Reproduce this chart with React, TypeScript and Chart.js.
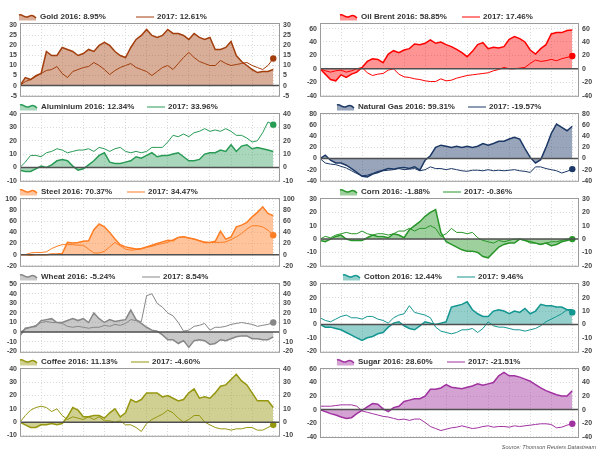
import React, { useEffect, useRef } from "react";
import { Chart, registerables } from "chart.js";
Chart.register(...registerables);

const FONT = "'Liberation Sans', Arial, Helvetica, sans-serif";

// ---- data (weekly-ish readings, % change YTD) ----
const gold2016 = [0,4,3,5,6,17,15,15,19,18,17,15,16,18,17,20,21.5,20,17,15,14,19,23,25,28,25,24,25,28,26,26,25,23,26,24,23,24,18,18,19,22,15,12,10,8,6.5,7,7,8];
const gold2017 = [0,2,3,4.5,6,7.5,8,9.5,6,4,7,8,9,9.5,11.5,10,8,5.5,7.5,9,10,11,9,8,7,5,7,9,10,8,11,14,16.5,14,12,11,10,10,12.5,11,10,10.5,11,11.5,10,9,8,10,13.5];
const oil2016 = [0,-8,-16,-18,-9,-13,-8,-5,2,11,15,14,9,22,27,24,28,30,37,36,38,43,38,40,36,33,29,24,18,26,36,39,30,32,31,33,44,48,45,40,28,22,30,36,52,54,54,57,58];
const oil2017 = [0,-3,-5,-3,-2,-5,-3,0,2,-6,-10,-8,-7,-2,0,-8,-12,-13,-15,-16,-18,-19,-19,-15,-18,-17,-14,-12,-10,-9,-8,-7,-6,-3,-1,2,0,0,1,2,8,13,11,12,14,12,15,17,19];
const alum2016 = [-2,-3,-3,-1,1,0,2,5,6,5,1,-2,-1,2,5,9,11,4,3,3,4,5,8,7,9,11,8,9,9,10,11,8,5,5,6,10,11,11,13,12,17,12,16,17,14,15,14,13,12];
const alum2017 = [0,4,9,9,8,11,12,14,13,11,12,13,13,14,12,15,14,12,14,15,12,11,12,11,12,15,15,15,19,24,23,25,23,26,27,29,27,28,27,29,27,24,24,22,19,20,26,34,32];
const gas2016 = [0,6,-3,-8,-8,-12,-18,-25,-32,-33,-28,-25,-21,-18,-19,-17,-16,-18,-15,-21,-3,5,20,24,22,20,22,20,22,20,22,27,24,27,31,31,35,38,35,18,2,-8,-2,20,45,62,56,50,58];
const gas2017 = [0,-8,-10,-11,-14,-17,-22,-27,-31,-30,-27,-23,-22,-21,-20,-18,-20,-19,-18,-22,-20,-15,-18,-18,-20,-18,-20,-22,-23,-21,-21,-22,-20,-22,-21,-22,-21,-20,-22,-23,-25,-15,-15,-18,-20,-22,-26,-23,-19];
const steel2016 = [0,0,-1,0,0,0,1,1,2,22,21,22,24,25,45,55,50,40,28,18,14,12,10,11,14,17,20,23,26,25,31,32,30,28,25,22,22,24,42,28,32,50,53,58,68,76,86,74,70];
const steel2017 = [0,0,3,4,4,5,11,15,18,18,18,17,17,10,3,3,6,14,22,16,10,8,9,10,13,15,18,20,22,27,31,32,30,28,25,23,22,22,22,23,27,32,38,46,52,52,50,44,35];
const corn2016 = [-1,-2,0,2,3,0,-1,-1,-1,1,3,2,2,1,4,3,1,7,10,13,17,20,22,5,-2,-4,-6,-8,-9,-9,-10,-13,-14,-10,-6,-4,-3,-3,0,-1,-2,-3,-4,-3,-5,-4,-2,-1,0];
const corn2017 = [0,2,1,3,4,5,4,4,6,4,3,4,4,3,4,6,6,8,6,8,8,10,8,2,4,8,5,5,4,5,1,-1,-2,-3,-1,-2,-1,0,0,-1,-3,-3,-4,-3,-2,-2,-1,0,0];
const wheat2016 = [-4,4,5,6,12,13,14,10,10,12,14,12,14,10,20,14,10,13,11,12,13,23,13,9,5,2,1,-3,-8,-8,-12,-9,-16,-9,-8,-9,-13,-12,-8,-9,-7,-5,-4,-4,-7,-7,-8,-8,-5];
const wheat2017 = [0,3,5,7,10,11,10,10,9,6,5,6,5,4,5,5,7,6,8,7,9,13,12,11,38,40,30,26,20,17,10,1,2,6,7,9,2,5,5,6,8,9,10,9,8,6,7,8,10];
const cotton2016 = [0,-2,-2,-3,-4,-6,-8,-10,-12,-10,-9,-7,-6,-2,1,2,-1,-3,-4,-1,2,1,0,1,2,13,14,15,17,11,8,6,6,10,11,10,8,10,9,12,8,10,15,14,14,13,13,11,11];
const cotton2017 = [5,3,2,4,6,7,5,5,4,6,6,4,3,1,5,7,8,14,9,8,7,5,-2,-5,-6,-7,-6,-4,-4,-3,-6,-3,2,-1,-2,-2,-3,-4,-4,-5,-4,-3,-1,2,4,6,8,11,9];
const coffee2016 = [0,-2,-4,-4,-2,-2,-1,-2,-1,4,11,9,4,4,5,5,3,7,10,4,7,17,15,17,22,22,22,19,20,18,16,17,22,25,18,19,18,22,27,28,32,36,31,28,22,16,16,16,11];
const coffee2017 = [0,5,9,11,12,11,8,10,5,2,4,3,2,4,2,4,1,1,0,1,-2,-2,-4,-7,-1,2,4,6,9,7,3,0,2,5,5,0,-2,-4,-5,-5,-6,-5,-5,-4,-4,-6,-6,-4,-2];
const sugar2016 = [0,-3,-6,-8,-11,-13,-12,-6,-1,4,9,8,1,-3,3,5,12,14,16,16,20,30,30,32,37,33,32,31,33,35,38,36,38,40,50,55,50,50,48,45,42,37,32,28,25,22,20,20,28];
const sugar2017 = [5,5,5,6,7,7,7,5,-2,-4,-6,-8,-10,-11,-13,-15,-14,-16,-14,-14,-19,-25,-28,-31,-29,-27,-26,-24,-26,-28,-27,-25,-24,-26,-25,-25,-26,-24,-25,-24,-23,-22,-21,-21,-22,-27,-26,-23,-21];

const legend2016 = ["Gold 2016: 8.95%","Oil Brent 2016: 58.85%","Aluminium 2016: 12.34%","Natural Gas 2016: 59.31%","Steel 2016: 70.37%","Corn 2016: -1.88%","Wheat 2016: -5.24%","Cotton 2016: 12.44%","Coffee 2016: 11.13%","Sugar 2016: 28.60%"];
const legend2017 = ["2017: 12.61%","2017: 17.46%","2017: 33.96%","2017: -19.57%","2017: 34.47%","2017: -0.36%","2017: 8.54%","2017: 9.46%","2017: -4.60%","2017: -21.51%"];

const goldTicks = [-5,0,5,10,15,20,25,30];
const oilTicks = [-40,-20,0,20,40,60];
const alumTicks = [-10,0,10,20,30,40];
const gasTicks = [-40,-20,0,20,40,60,80];
const steelTicks = [-20,0,20,40,60,80,100];
const cornTicks = [-20,-10,0,10,20,30];
const wheatTicks = [-20,-10,0,10,20,30,40,50];
const cottonTicks = [-20,-10,0,10,20,30];
const coffeeTicks = [-10,0,10,20,30,40];
const sugarTicks = [-40,-20,0,20,40,60];
const monthTicks = [0,1,2,3,4,5,6,7,8,9,10,11,12];

const sourceText = "Source: Thomson Reuters Datastream";

// x position of each reading (in months, 4 readings per month)
const xPositions = gold2016.map((_, i) => i / 4);

type PanelCfg = {
  s16: number[]; s17: number[]; lab16: string; lab17: string;
  ticks: number[]; range: [number, number];
  line: string; fill: string; col: number; top: number; h: number; legX: [number, number];
};

const panels: PanelCfg[] = [
  { s16: gold2016, s17: gold2017, lab16: legend2016[0], lab17: legend2017[0], ticks: goldTicks, range: [-5.6, 31.2], line: "rgb(163,62,12)", fill: "rgba(163,62,12,0.42)", col: 0, top: 23, h: 75, legX: [19, 136] },
  { s16: oil2016, s17: oil2017, lab16: legend2016[1], lab17: legend2017[1], ticks: oilTicks, range: [-41.8, 68.3], line: "rgb(255,0,0)", fill: "rgba(255,0,0,0.42)", col: 1, top: 23, h: 75, legX: [40, 162] },
  { s16: alum2016, s17: alum2017, lab16: legend2016[2], lab17: legend2017[2], ticks: alumTicks, range: [-10.7, 40.7], line: "rgb(40,155,85)", fill: "rgba(40,155,85,0.4)", col: 0, top: 113, h: 70, legX: [20, 147] },
  { s16: gas2016, s17: gas2017, lab16: legend2016[3], lab17: legend2017[3], ticks: gasTicks, range: [-41.8, 81.8], line: "rgb(28,56,102)", fill: "rgba(28,56,102,0.45)", col: 1, top: 113, h: 70, legX: [37, 168] },
  { s16: steel2016, s17: steel2017, lab16: legend2016[4], lab17: legend2017[4], ticks: steelTicks, range: [-21.8, 101.8], line: "rgb(255,125,35)", fill: "rgba(255,125,35,0.45)", col: 0, top: 198, h: 70, legX: [20, 127] },
  { s16: corn2016, s17: corn2017, lab16: legend2016[5], lab17: legend2017[5], ticks: cornTicks, range: [-20.7, 30.7], line: "rgb(40,150,40)", fill: "rgba(40,150,40,0.45)", col: 1, top: 198, h: 70, legX: [40, 143] },
  { s16: wheat2016, s17: wheat2017, lab16: legend2016[6], lab17: legend2017[6], ticks: wheatTicks, range: [-21.7, 51.3], line: "rgb(135,135,135)", fill: "rgba(135,135,135,0.45)", col: 0, top: 283, h: 71, legX: [20, 142] },
  { s16: cotton2016, s17: cotton2017, lab16: legend2016[7], lab17: legend2017[7], ticks: cottonTicks, range: [-21.2, 31.0], line: "rgb(20,150,145)", fill: "rgba(20,150,145,0.45)", col: 1, top: 283, h: 71, legX: [43, 157] },
  { s16: coffee2016, s17: coffee2017, lab16: legend2016[8], lab17: legend2017[8], ticks: coffeeTicks, range: [-11, 40.7], line: "rgb(150,150,15)", fill: "rgba(150,150,15,0.45)", col: 0, top: 368, h: 70, legX: [20, 131] },
  { s16: sugar2016, s17: sugar2017, lab16: legend2016[9], lab17: legend2017[9], ticks: sugarTicks, range: [-42, 61.5], line: "rgb(160,50,160)", fill: "rgba(160,50,160,0.45)", col: 1, top: 368, h: 70, legX: [37, 147] },
];

function wave(ctx: CanvasRenderingContext2D, x: number, cy: number) {
  ctx.moveTo(x, cy - 1.5);
  ctx.bezierCurveTo(x + 3, cy - 3, x + 5, cy + 1.5, x + 8.5, cy + 0.5);
  ctx.bezierCurveTo(x + 11, cy - 0.5, x + 13, cy - 3, x + 17, cy + 1.5);
}

const decorPlugin = {
  id: "decor",
  afterDatasetsDraw(chart: any) {
    const { ctx, chartArea: a, scales } = chart;
    const y0 = scales.y.getPixelForValue(0);
    ctx.save();
    ctx.strokeStyle = "#505050";
    ctx.lineWidth = 1.5;
    ctx.beginPath();
    ctx.moveTo(a.left, y0);
    ctx.lineTo(a.right, y0);
    ctx.stroke();
    ctx.strokeStyle = "#9b9b9b";
    ctx.lineWidth = 1;
    ctx.strokeRect(a.left + 0.5, a.top + 0.5, a.right - a.left - 1, a.bottom - a.top - 1);
    ctx.restore();
  },
  afterDraw(chart: any, _args: any, opts: any) {
    const { ctx, chartArea: a } = chart;
    const cy = a.top - 6.5;
    const [x1, x2] = opts.legX;
    ctx.save();
    ctx.beginPath();
    wave(ctx, x1, cy);
    ctx.lineTo(x1 + 17, cy + 4);
    ctx.lineTo(x1, cy + 4);
    ctx.closePath();
    ctx.fillStyle = opts.fill;
    ctx.fill();
    ctx.beginPath();
    wave(ctx, x1, cy);
    ctx.strokeStyle = opts.line;
    ctx.lineWidth = 1.5;
    ctx.stroke();
    ctx.beginPath();
    ctx.moveTo(x2, cy + 0.5);
    ctx.lineTo(x2 + 18, cy + 0.5);
    ctx.lineWidth = 1;
    ctx.stroke();
    ctx.font = `bold 8px ${FONT}`;
    ctx.fillStyle = "#333";
    ctx.textBaseline = "middle";
    ctx.textAlign = "left";
    ctx.fillText(opts.lab16, x1 + 21, cy);
    ctx.fillText(opts.lab17, x2 + 21, cy);
    if (opts.source) {
      ctx.font = `italic 5.5px ${FONT}`;
      ctx.fillStyle = "#555";
      ctx.textAlign = "right";
      ctx.fillText(opts.source, 296, a.bottom + 9);
    }
    ctx.restore();
  },
};

function Panel({ p, source }: { p: PanelCfg; source?: string }) {
  const ref = useRef<HTMLCanvasElement>(null);
  const padTop = 16;
  const padBottom = source ? 12 : 6;
  const width = 300;
  const height = padTop + p.h + padBottom;
  useEffect(() => {
    const canvas = ref.current!;
    const rightW = p.col === 0 ? 20 : 21;
    const tickFont = { family: FONT, size: 7, weight: "bold" as const };
    const setTicks = (s: any) => {
      s.ticks = p.ticks.map((v) => ({ value: v }));
    };
    const chart = new Chart(canvas, {
      type: "line",
      data: {
        datasets: [
          {
            label: p.lab17,
            data: xPositions.map((x, i) => ({ x, y: p.s17[i] })),
            borderColor: p.line,
            borderWidth: 1,
            fill: false,
            pointRadius: (c: any) => (c.dataIndex === p.s17.length - 1 ? 3.2 : 0),
            pointBackgroundColor: p.line,
            pointBorderWidth: 0,
            order: 0,
          } as any,
          {
            label: p.lab16,
            data: xPositions.map((x, i) => ({ x, y: p.s16[i] })),
            borderColor: p.line,
            borderWidth: 1.5,
            backgroundColor: p.fill,
            fill: "origin",
            pointRadius: 0,
            order: 1,
          } as any,
        ],
      },
      options: {
        responsive: false,
        animation: false,
        events: [],
        layout: { padding: { top: padTop, bottom: padBottom, left: 0, right: 0 } },
        plugins: {
          legend: { display: false },
          tooltip: { enabled: false },
          decor: { legX: p.legX, line: p.line, fill: p.fill, lab16: p.lab16, lab17: p.lab17, source },
        } as any,
        scales: {
          x: {
            type: "linear",
            min: 0,
            max: 12.32,
            afterBuildTicks: (s: any) => {
              s.ticks = monthTicks.map((v) => ({ value: v }));
            },
            afterFit: (s: any) => {
              s.height = 0;
            },
            ticks: { display: false },
            grid: { color: "#dadada", drawTicks: false },
            border: { display: false, dash: [1, 2] },
          },
          y: {
            type: "linear",
            position: "left",
            min: p.range[0],
            max: p.range[1],
            afterBuildTicks: setTicks,
            afterFit: (s: any) => {
              s.width = 20;
            },
            ticks: { font: tickFont, color: "#444", padding: 3, autoSkip: false },
            grid: { color: "#dadada", drawTicks: false },
            border: { display: false, dash: [1, 2] },
          },
          y2: {
            type: "linear",
            position: "right",
            min: p.range[0],
            max: p.range[1],
            afterBuildTicks: setTicks,
            afterFit: (s: any) => {
              s.width = rightW;
            },
            ticks: { font: tickFont, color: "#444", padding: 3, autoSkip: false },
            grid: { display: false, drawTicks: false },
            border: { display: false },
          },
        } as any,
      },
      plugins: [decorPlugin],
    });
    return () => chart.destroy();
  }, []);
  return (
    <canvas
      ref={ref}
      width={width}
      height={height}
      style={{ position: "absolute", left: p.col * 300, top: p.top - padTop, width, height }}
    />
  );
}

export default function App() {
  useEffect(() => {
    document.body.style.margin = "0";
    document.body.style.overflow = "hidden";
  }, []);
  return (
    <div style={{ position: "fixed", left: 0, top: 0, width: 600, height: 450, background: "#fff", overflow: "hidden" }}>
      {panels.map((p, i) => (
        <Panel key={i} p={p} source={i === panels.length - 1 ? sourceText : undefined} />
      ))}
    </div>
  );
}
